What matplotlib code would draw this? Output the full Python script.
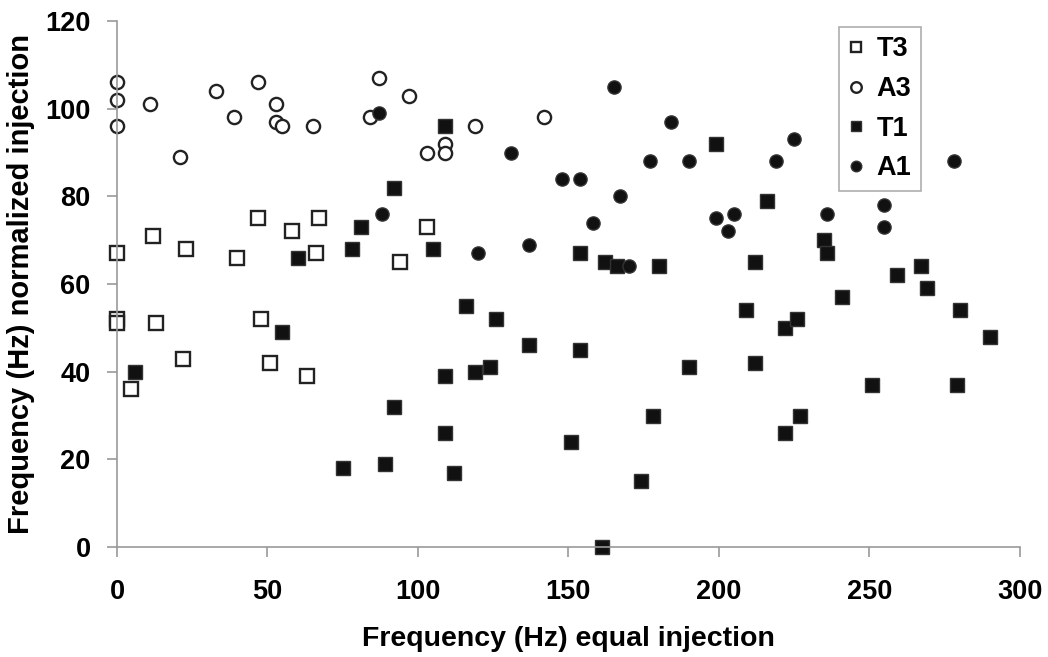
import matplotlib
matplotlib.use('Agg')
import matplotlib.pyplot as plt

plt.rcParams['font.family'] = ['Liberation Sans', 'DejaVu Sans']
plt.rcParams['font.weight'] = 'bold'

# T3 - open squares
t3_x = [0, 0, 0, 4.7, 12, 13, 22, 23, 40, 47, 48, 51, 58, 63, 66, 67, 94, 103]
t3_y = [67, 52, 51, 36, 71, 51, 43, 68, 66, 75, 52, 42, 72, 39, 67, 75, 65, 73]

# A3 - open circles
a3_x = [0, 0, 0, 11, 21, 33, 39, 47, 53, 53, 55, 65, 84, 87, 97, 103, 109, 109, 119, 142]
a3_y = [106, 102, 96, 101, 89, 104, 98, 106, 101, 97, 96, 96, 98, 107, 103, 90, 92, 90, 96, 98]

# T1 - filled squares
t1_x = [6, 55, 60, 75, 78, 81, 89, 92, 92, 105, 109, 109, 109, 112, 116, 119, 124, 126,
        137, 151, 154, 154, 161, 162, 166, 174, 178, 180, 190, 199, 209, 212, 212, 216,
        222, 222, 226, 227, 235, 236, 241, 251, 259, 267, 269, 279, 280, 290]
t1_y = [40, 49, 66, 18, 68, 73, 19, 82, 32, 68, 96, 39, 26, 17, 55, 40, 41, 52,
        46, 24, 67, 45, 0, 65, 64, 15, 30, 64, 41, 92, 54, 65, 42, 79,
        50, 26, 52, 30, 70, 67, 57, 37, 62, 64, 59, 37, 54, 48]

# A1 - filled circles
a1_x = [87, 88, 120, 131, 137, 148, 154, 158, 165, 167, 170, 177, 184, 190, 199, 203,
        205, 219, 225, 236, 255, 255, 278]
a1_y = [99, 76, 67, 90, 69, 84, 84, 74, 105, 80, 64, 88, 97, 88, 75, 72,
        76, 88, 93, 76, 78, 73, 88]

fig = plt.figure(figsize=(10.48, 6.57), dpi=100)
ax = fig.add_axes([0.1116, 0.1674, 0.8616, 0.8006])

fs = 19.5
ms = 9.5
ax.plot(t3_x, t3_y, 's', ms=ms, mfc='white', mec='#222222', mew=1.7, label='T3', clip_on=False)
ax.plot(a3_x, a3_y, 'o', ms=ms, mfc='white', mec='#222222', mew=1.7, label='A3', clip_on=False)
ax.plot(t1_x, t1_y, 's', ms=ms, mfc='#111111', mec='#333333', mew=1.0, label='T1', clip_on=False)
ax.plot(a1_x, a1_y, 'o', ms=ms, mfc='#111111', mec='#333333', mew=1.0, label='A1', clip_on=False)

ax.set_xlim(0, 300)
ax.set_ylim(0, 120)
ax.set_xticks(range(0, 301, 50))
ax.set_yticks(range(0, 121, 20))

for s in ['top', 'right']:
    ax.spines[s].set_visible(False)
for s in ['left', 'bottom']:
    ax.spines[s].set_color('#999999')
    ax.spines[s].set_linewidth(1.2)

ax.tick_params(axis='both', direction='out', length=7, width=1.2, color='#999999',
               labelsize=fs)
ax.tick_params(axis='x', pad=16)
ax.tick_params(axis='y', pad=12)

ax.set_xlabel('Frequency (Hz) equal injection', fontsize=20.5, fontweight='bold', labelpad=15)
ax.set_ylabel('Frequency (Hz) normalized injection', fontsize=21, fontweight='bold', labelpad=7)

leg = ax.legend(loc='upper left', bbox_to_anchor=(0.7995, 0.9886), borderaxespad=0,
                fontsize=fs, markerscale=0.8, handlelength=0.6, handletextpad=0.45,
                borderpad=0.35, labelspacing=0.5, fancybox=False, frameon=True)
leg.get_frame().set_edgecolor('#999999')
leg.get_frame().set_linewidth(1.2)

fig.savefig('out.png', dpi=100)
